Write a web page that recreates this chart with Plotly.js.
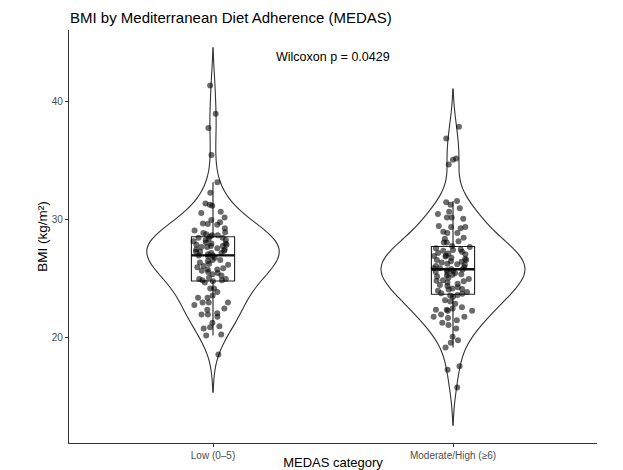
<!DOCTYPE html>
<html>
<head>
<meta charset="utf-8">
<script src="https://cdn.plot.ly/plotly-3.0.1.min.js"></script>
<style>
  html, body { margin: 0; padding: 0; background: #fff; }
  #chart { width: 623px; height: 470px; }
  #flag { position: absolute; left: 0; top: 10px; width: 5px; height: 53px; background: #be1e3c; }
</style>
</head>
<body>
<div id="flag"></div>
<div id="chart"></div>
<script>
const categories = ["Low (0–5)", "Moderate/High (≥6)"];

const bmiLow = [
  41.4, 39.0, 37.8, 35.5, 33.2, 32.3, 31.4, 31.2, 31.3, 30.7, 30.6, 30.2,
  30.0, 29.8, 29.7, 29.65, 29.6, 29.3, 29.1, 28.9, 28.8, 28.95, 28.7, 28.7,
  28.6, 28.5, 28.5, 28.4, 28.3, 28.3, 28.2, 28.0, 28.0, 27.9, 27.9, 27.8,
  27.7, 27.7, 27.6, 27.5, 27.5, 27.4, 27.3, 27.3, 27.2, 27.2, 27.1, 28.1, 27.8,
  27.0, 26.9, 26.8, 26.6, 26.6, 26.5, 26.3, 26.2, 26.0, 25.9, 25.8, 25.8,
  25.6, 25.5, 25.4, 25.3, 25.1, 25.0, 25.0, 24.9, 26.4, 26.1, 25.7, 27.0, 24.9,
  24.8, 24.7, 23.6, 22.8, 21.8, 24.2, 24.2, 23.9, 23.4, 23.4, 23.0, 23.0,
  23.0, 22.5, 22.4, 22.1, 22.0, 22.0, 21.3, 21.0, 20.9, 20.8, 20.3, 20.2, 18.6
];

const bmiModerate = [
  37.9, 36.9, 35.2, 35.1, 34.7, 31.6, 31.5, 31.3, 31.0, 30.7, 30.5, 30.2,
  30.2, 30.1, 29.4, 29.4, 29.3, 29.5, 28.9, 28.9, 29.0, 28.5, 28.4, 28.1,
  28.1, 28.2, 27.8,
  27.7, 27.6, 27.5, 27.4, 27.3, 27.2, 27.1, 27.0, 26.9, 26.8, 26.7, 26.6,
  26.6, 26.5, 26.4, 26.3, 26.2, 26.1, 26.0, 25.9, 25.9, 25.85, 27.45, 26.95,
  26.45, 27.15, 26.25,
  25.8, 25.7, 25.6, 25.5, 25.4, 25.3, 25.2, 25.1, 25.0, 24.9, 24.8, 24.7,
  24.6, 24.5, 24.4, 24.3, 24.2, 24.1, 24.0, 23.9, 23.8, 25.75, 25.55, 25.35,
  24.85, 24.15, 23.75,
  23.6, 23.5, 23.2, 23.1, 22.9, 22.6, 22.5, 22.4, 22.4, 22.3, 22.3, 22.0,
  21.8, 21.8, 21.7, 21.5, 21.3, 21.1, 20.8, 20.1, 19.8, 19.6, 19.2, 17.6,
  17.3, 15.8, 23.65
];

const groups = [bmiLow, bmiModerate];
const bandwidth = 1.6;
const violinWidths = [0.55, 0.6];
const yTicks = [20, 30, 40];
const pLabel = "Wilcoxon p = 0.0429";

function quantile(arr, p) {
  const s = arr.slice().sort((a, b) => a - b);
  const h = (s.length - 1) * p;
  const lo = Math.floor(h), hi = Math.ceil(h);
  return s[lo] + (s[hi] - s[lo]) * (h - lo);
}

const traces = [];
// violins
groups.forEach((vals, i) => {
  traces.push({
    type: 'violin', x: vals.map(() => categories[i]), y: vals,
    bandwidth: bandwidth, spanmode: 'soft',
    width: violinWidths[i],
    points: false, box: { visible: false }, meanline: { visible: false },
    line: { color: '#333333', width: 1.1 },
    fillcolor: 'rgba(255,255,255,0)',
    hoverinfo: 'skip', showlegend: false
  });
});
// boxes (whiskers at 1.5 IQR, outlier markers hidden)
groups.forEach((vals, i) => {
  traces.push({
    type: 'box', x: vals.map(() => categories[i]), y: vals,
    width: 0.18, whiskerwidth: 0,
    boxpoints: 'all', jitter: 0, pointpos: 0,
    marker: { opacity: 0, size: 1 },
    line: { color: '#222222', width: 1.1 },
    fillcolor: 'rgba(255,255,255,0)',
    hoverinfo: 'skip', showlegend: false
  });
});
// thicker median line, computed from the data
groups.forEach((vals, i) => {
  const m = quantile(vals, 0.5);
  traces.push({
    type: 'box', x: [categories[i]],
    q1: [m], median: [m], q3: [m], lowerfence: [m], upperfence: [m],
    width: 0.18, whiskerwidth: 0, boxpoints: false,
    line: { color: '#111111', width: 2.4 },
    fillcolor: 'rgba(255,255,255,0)',
    hoverinfo: 'skip', showlegend: false
  });
});
// jittered points: core and tails jittered separately so tails spread too
groups.forEach((vals, i) => {
  const q1 = quantile(vals, 0.25), q3 = quantile(vals, 0.75);
  const core = vals.filter(v => v >= q1 && v <= q3);
  const tails = vals.filter(v => v < q1 || v > q3);
  [core, tails].forEach(sub => {
    traces.push({
      type: 'box', x: sub.map(() => categories[i]), y: sub,
      width: 0.18, whiskerwidth: 0,
      boxpoints: 'all', jitter: 1, pointpos: 0,
      marker: { color: 'rgba(0,0,0,0.58)', size: 6, line: { width: 0 } },
      line: { color: 'rgba(0,0,0,0)', width: 0 },
      fillcolor: 'rgba(255,255,255,0)',
      hoverinfo: 'skip', showlegend: false
    });
  });
});

const layout = {
  width: 623, height: 470,
  margin: { l: 69, r: 26, t: 30, b: 27 },
  paper_bgcolor: '#ffffff', plot_bgcolor: '#ffffff',
  font: { family: 'Liberation Sans, Arial, sans-serif', color: '#000' },
  showlegend: false, boxmode: 'overlay', violinmode: 'overlay',
  title: {
    text: 'BMI by Mediterranean Diet Adherence (MEDAS)',
    font: { size: 15, color: '#000' },
    xref: 'container', x: 70 / 623, xanchor: 'left',
    yref: 'container', y: 1 - 18 / 470, yanchor: 'middle'
  },
  xaxis: {
    type: 'category',
    categoryorder: 'array', categoryarray: categories,
    range: [-0.6, 1.6],
    showline: true, linecolor: '#333333', linewidth: 1.1,
    ticks: 'outside', ticklen: 3, tickcolor: '#333333', tickwidth: 1,
    tickfont: { size: 10, color: '#4d4d4d' },
    showgrid: false, zeroline: false,
    title: { text: 'MEDAS category', font: { size: 13, color: '#000' }, standoff: 1 },
    automargin: false
  },
  yaxis: {
    range: [11.1, 46.1],
    tickvals: yTicks,
    showline: true, linecolor: '#333333', linewidth: 1.1,
    ticks: 'outside', ticklen: 3, tickcolor: '#333333', tickwidth: 1,
    tickfont: { size: 10, color: '#4d4d4d' },
    showgrid: false, zeroline: false,
    title: { text: 'BMI (kg/m²)', font: { size: 13.5, color: '#000' }, standoff: 1 },
    automargin: false
  },
  annotations: [{
    text: pLabel, xref: 'paper', yref: 'paper',
    x: 0.5, y: 1, yshift: -27, xanchor: 'center', yanchor: 'middle',
    showarrow: false, font: { size: 12.5, color: '#000' }
  }]
};

Plotly.newPlot('chart', traces, layout, { displayModeBar: false, staticPlot: true });
</script>
</body>
</html>
